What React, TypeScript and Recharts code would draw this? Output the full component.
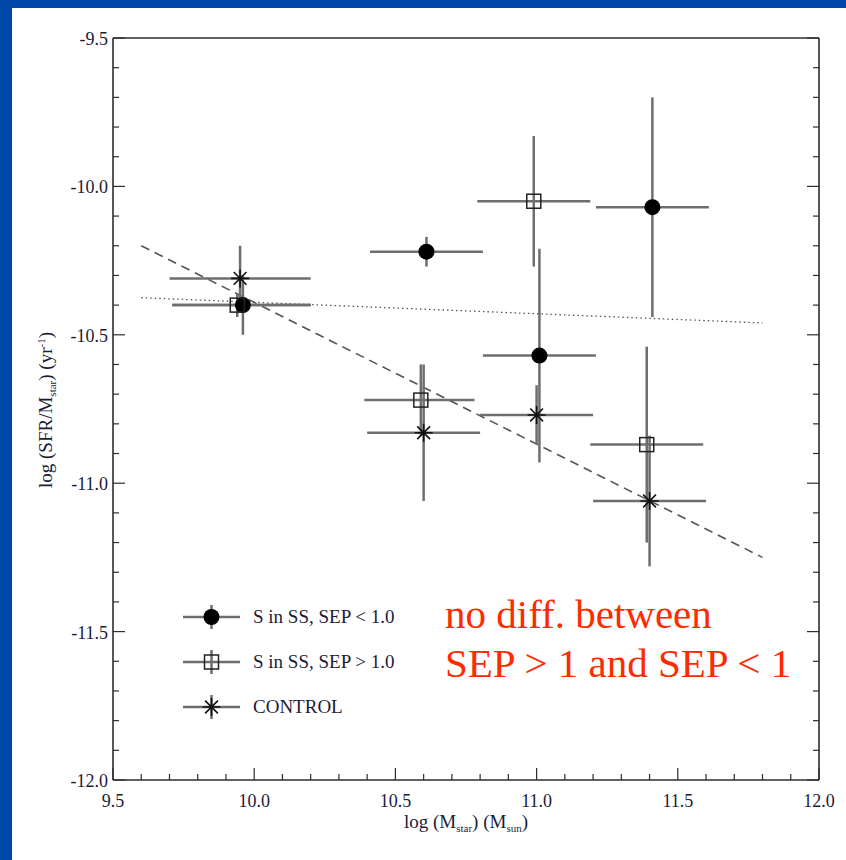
import React from "react";
import { ComposedChart, Scatter, ErrorBar, XAxis, YAxis, ReferenceLine, Legend } from "recharts";

// each point: x, y, x error [low, high], y error [down, up]
const sepLow = [
	{ x: 9.96, y: -10.4, ex: [0.25, 0.24], ey: [0.1, 0.1] },
	{ x: 10.61, y: -10.22, ex: [0.2, 0.2], ey: [0.05, 0.05] },
	{ x: 11.01, y: -10.57, ex: [0.2, 0.2], ey: [0.36, 0.36] },
	{ x: 11.41, y: -10.07, ex: [0.2, 0.2], ey: [0.37, 0.37] },
];
const sepHigh = [
	{ x: 9.94, y: -10.4, ex: [0.23, 0.26], ey: [0.04, 0.04] },
	{ x: 10.59, y: -10.72, ex: [0.2, 0.19], ey: [0.12, 0.12] },
	{ x: 10.99, y: -10.05, ex: [0.2, 0.2], ey: [0.22, 0.22] },
	{ x: 11.39, y: -10.87, ex: [0.2, 0.2], ey: [0.33, 0.33] },
];
const control = [
	{ x: 9.95, y: -10.31, ex: [0.25, 0.25], ey: [0.1, 0.11] },
	{ x: 10.6, y: -10.83, ex: [0.2, 0.2], ey: [0.23, 0.23] },
	{ x: 11.0, y: -10.77, ex: [0.2, 0.2], ey: [0.1, 0.1] },
	{ x: 11.4, y: -11.06, ex: [0.2, 0.2], ey: [0.22, 0.22] },
];

const dottedFit = [
	{ x: 9.6, y: -10.375 },
	{ x: 11.8, y: -10.46 },
];
const dashedFit = [
	{ x: 9.6, y: -10.2 },
	{ x: 11.8, y: -11.25 },
];

const seriesNames = ["S in SS, SEP < 1.0", "S in SS, SEP > 1.0", "CONTROL"];

const xTicks = [
	9.5, 9.6, 9.7, 9.8, 9.9, 10.0, 10.1, 10.2, 10.3, 10.4, 10.5, 10.6, 10.7, 10.8, 10.9,
	11.0, 11.1, 11.2, 11.3, 11.4, 11.5, 11.6, 11.7, 11.8, 11.9, 12.0,
];
const yTicks = [
	-12.0, -11.9, -11.8, -11.7, -11.6, -11.5, -11.4, -11.3, -11.2, -11.1, -11.0, -10.9, -10.8,
	-10.7, -10.6, -10.5, -10.4, -10.3, -10.2, -10.1, -10.0, -9.9, -9.8, -9.7, -9.6, -9.5,
];

const note = ["no diff. between", "SEP > 1 and SEP < 1"];

const FONT = '"Liberation Serif", "DejaVu Serif", serif';
const INK = "#1c1c38";
const AXIS = "#2e2e2e";
const BAR = "#6e6e6e";

const isMajor = (v: number) => Math.abs(v * 2 - Math.round(v * 2)) < 1e-6;

function BottomTick({ x, y, payload }: any) {
	const v = payload.value;
	const m = isMajor(v);
	return (
		<g>
			<line x1={x} x2={x} y1={y} y2={y - (m ? 12 : 6)} stroke={AXIS} strokeWidth={1.2} />
			{m && (
				<text x={x} y={y + 27} textAnchor='middle' fontSize={18} fontFamily={FONT} fill={INK}>
					{v.toFixed(1)}
				</text>
			)}
		</g>
	);
}

function TopTick({ x, y, payload }: any) {
	const m = isMajor(payload.value);
	return <line x1={x} x2={x} y1={y} y2={y + (m ? 12 : 6)} stroke={AXIS} strokeWidth={1.2} />;
}

function LeftTick({ x, y, payload }: any) {
	const v = payload.value;
	const m = isMajor(v);
	return (
		<g>
			<line x1={x} x2={x + (m ? 12 : 6)} y1={y} y2={y} stroke={AXIS} strokeWidth={1.2} />
			{m && (
				<text x={x - 5} y={y + 7} textAnchor='end' fontSize={18} fontFamily={FONT} fill={INK}>
					{v.toFixed(1)}
				</text>
			)}
		</g>
	);
}

function RightTick({ x, y, payload }: any) {
	const m = isMajor(payload.value);
	return <line x1={x} x2={x - (m ? 12 : 6)} y1={y} y2={y} stroke={AXIS} strokeWidth={1.2} />;
}

function FilledDot({ cx, cy }: any) {
	return <circle cx={cx} cy={cy} r={8} fill='#000' />;
}

function OpenBox({ cx, cy }: any) {
	return <rect x={cx - 7} y={cy - 7} width={14} height={14} fill='none' stroke='#222' strokeWidth={1.5} />;
}

function Asterisk({ cx, cy }: any) {
	const r = 9;
	const d = 6.4;
	return (
		<path
			d={`M${cx - r},${cy}H${cx + r}M${cx},${cy - r}V${cy + r}M${cx - d},${cy - d}L${cx + d},${cy + d}M${cx - d},${cy + d}L${cx + d},${cy - d}`}
			stroke='#111'
			strokeWidth={1.6}
			fill='none'
		/>
	);
}

const markers = [FilledDot, OpenBox, Asterisk];

function LegendBox() {
	return (
		<div>
			{seriesNames.map((name, i) => {
				const Mark = markers[i];
				return (
					<div key={name} style={{ display: "flex", alignItems: "center", height: 45 }}>
						<svg width={60} height={30} style={{ overflow: "visible" }}>
							<line x1={1} x2={58} y1={15} y2={15} stroke={BAR} strokeWidth={2.5} />
							<line x1={29.5} x2={29.5} y1={3} y2={27} stroke={BAR} strokeWidth={2.5} />
							<Mark cx={29.5} cy={15} />
						</svg>
						<span style={{ marginLeft: 11, fontFamily: FONT, fontSize: 19, color: INK, whiteSpace: "nowrap" }}>
							{name}
						</span>
					</div>
				);
			})}
		</div>
	);
}

const groups = [sepLow, sepHigh, control];

export default function App() {
	return (
		<div
			style={{
				position: "absolute",
				left: 0,
				top: 0,
				width: 846,
				height: 860,
				background: "#0047aa",
				overflow: "hidden",
			}}
		>
			<div style={{ position: "absolute", left: 12, top: 8, right: 0, bottom: 0, background: "#fff" }} />
			<div style={{ position: "absolute", left: 0, top: 0 }}>
				<ComposedChart width={846} height={860} margin={{ top: 37, right: 26, bottom: 30, left: 53 }}>
					<XAxis
						xAxisId='b'
						type='number'
						dataKey='x'
						domain={[9.5, 12]}
						allowDataOverflow
						ticks={xTicks}
						interval={0}
						height={50}
						tickSize={0}
						tickMargin={0}
						tickLine={false}
						tick={<BottomTick />}
						axisLine={{ stroke: AXIS, strokeWidth: 1.6 }}
					/>
					<XAxis
						xAxisId='t'
						orientation='top'
						type='number'
						domain={[9.5, 12]}
						allowDataOverflow
						ticks={xTicks}
						interval={0}
						height={1}
						tickSize={0}
						tickMargin={0}
						tickLine={false}
						tick={<TopTick />}
						axisLine={{ stroke: AXIS, strokeWidth: 1.6 }}
					/>
					<YAxis
						yAxisId='l'
						type='number'
						dataKey='y'
						domain={[-12, -9.5]}
						allowDataOverflow
						ticks={yTicks}
						interval={0}
						width={60}
						tickSize={0}
						tickMargin={0}
						tickLine={false}
						tick={<LeftTick />}
						axisLine={{ stroke: AXIS, strokeWidth: 1.6 }}
					/>
					<YAxis
						yAxisId='r'
						orientation='right'
						type='number'
						domain={[-12, -9.5]}
						allowDataOverflow
						ticks={yTicks}
						interval={0}
						width={1}
						tickSize={0}
						tickMargin={0}
						tickLine={false}
						tick={<RightTick />}
						axisLine={{ stroke: AXIS, strokeWidth: 1.6 }}
					/>
					<ReferenceLine
						xAxisId='b'
						yAxisId='l'
						segment={dottedFit}
						stroke='#555'
						strokeWidth={1.3}
						strokeDasharray='1.5 3'
						ifOverflow='visible'
					/>
					<ReferenceLine
						xAxisId='b'
						yAxisId='l'
						segment={dashedFit}
						stroke='#555'
						strokeWidth={1.6}
						strokeDasharray='9 6'
						ifOverflow='visible'
					/>
					{groups.map((g, i) => (
						<Scatter
							key={seriesNames[i]}
							name={seriesNames[i]}
							data={g}
							xAxisId='b'
							yAxisId='l'
							shape={markers[i]}
							isAnimationActive={false}
						>
							<ErrorBar dataKey='ex' direction='x' width={0} stroke={BAR} strokeWidth={2.5} isAnimationActive={false} />
							<ErrorBar dataKey='ey' direction='y' width={0} stroke={BAR} strokeWidth={2.5} isAnimationActive={false} />
						</Scatter>
					))}
					<Legend
						layout='vertical'
						align='center'
						verticalAlign='middle'
						content={<LegendBox />}
						wrapperStyle={{ position: "absolute", left: 182, top: 594, width: 280 }}
					/>
				</ComposedChart>
			</div>
			<svg
				width={846}
				height={860}
				style={{ position: "absolute", left: 0, top: 0, pointerEvents: "none" }}
				fontFamily={FONT}
			>
				<text x={466} y={828} textAnchor='middle' fontSize={19} fill={INK}>
					log (M<tspan fontSize={11} dy={4}>star</tspan>
					<tspan dy={-4}>) (M</tspan>
					<tspan fontSize={11} dy={4}>sun</tspan>
					<tspan dy={-4}>)</tspan>
				</text>
				<text x={52} y={410} textAnchor='middle' fontSize={19} fill={INK} transform='rotate(-90 52 410)'>
					log (SFR/M<tspan fontSize={11} dy={4}>star</tspan>
					<tspan dy={-4}>) (yr</tspan>
					<tspan fontSize={11} dy={-7}>-1</tspan>
					<tspan dy={7}>)</tspan>
				</text>
				{note.map((line, i) => (
					<text key={line} x={445} y={628 + i * 49} fontSize={41} fill='#ff2a00'>
						{line}
					</text>
				))}
			</svg>
		</div>
	);
}
